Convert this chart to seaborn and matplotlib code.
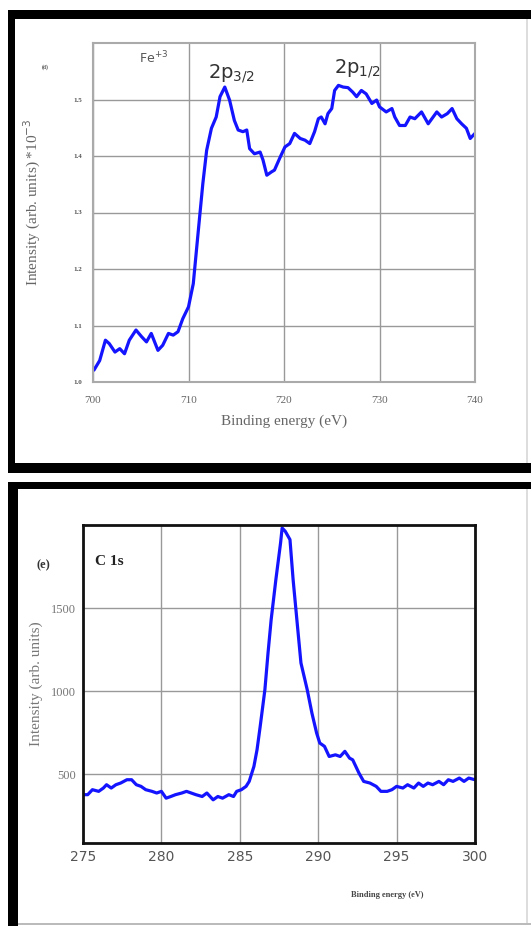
import matplotlib
matplotlib.use("Agg")
import matplotlib.pyplot as plt
import seaborn as sns
import pandas as pd
from matplotlib.patches import Rectangle

# Fe 2p spectrum (top panel)
fe_energy = [700.0, 700.1, 700.7, 701.3, 701.7, 702.3, 702.8, 703.3, 703.8, 704.5,
             705.1, 705.6, 706.1, 706.8, 707.3, 707.9, 708.4, 708.9, 709.4, 710.0,
             710.5, 711.0, 711.5, 711.9, 712.4, 712.9, 713.3, 713.8, 714.3, 714.8,
             715.2, 715.7, 716.1, 716.4, 716.9, 717.5, 717.8, 718.2, 718.7, 719.0,
             719.6, 720.1, 720.6, 721.1, 721.7, 722.2, 722.7, 723.2, 723.6, 723.9,
             724.3, 724.6, 725.0, 725.3, 725.7, 726.2, 726.7, 727.2, 727.6, 728.1,
             728.6, 729.2, 729.7, 730.0, 730.7, 731.3, 731.6, 732.1, 732.7, 733.2,
             733.7, 734.4, 735.1, 736.0, 736.5, 737.1, 737.6, 738.1, 738.6, 739.1,
             739.5, 740.0]
fe_intensity = [1.025, 1.021, 1.038, 1.074, 1.068, 1.053, 1.059, 1.050, 1.074, 1.092,
                1.080, 1.071, 1.086, 1.056, 1.065, 1.086, 1.083, 1.089, 1.112, 1.133,
                1.174, 1.263, 1.351, 1.410, 1.449, 1.469, 1.505, 1.522, 1.499, 1.463,
                1.446, 1.443, 1.446, 1.413, 1.404, 1.407, 1.393, 1.366, 1.372, 1.375,
                1.398, 1.416, 1.422, 1.440, 1.431, 1.428, 1.422, 1.443, 1.466, 1.469,
                1.457, 1.475, 1.484, 1.516, 1.525, 1.522, 1.521, 1.513, 1.505, 1.516,
                1.510, 1.493, 1.499, 1.487, 1.478, 1.484, 1.469, 1.454, 1.454, 1.469,
                1.466, 1.478, 1.457, 1.478, 1.469, 1.475, 1.484, 1.466, 1.457, 1.449,
                1.431, 1.440]

# C 1s spectrum (bottom panel)
c_energy = [275.0, 275.3, 275.6, 276.0, 276.3, 276.5, 276.8, 277.1, 277.4, 277.8,
            278.1, 278.4, 278.7, 279.0, 279.4, 279.7, 280.0, 280.3, 280.6, 280.9,
            281.3, 281.6, 281.9, 282.2, 282.6, 282.9, 283.3, 283.6, 283.9, 284.3,
            284.6, 284.8, 285.1, 285.4, 285.6, 285.9, 286.1, 286.3, 286.6, 286.8,
            287.0, 287.3, 287.6, 287.7, 287.9, 288.2, 288.4, 288.7, 288.9, 289.3,
            289.6, 289.9, 290.1, 290.4, 290.7, 291.1, 291.4, 291.7, 292.0, 292.2,
            292.6, 292.9, 293.3, 293.7, 294.0, 294.4, 294.7, 295.0, 295.4, 295.7,
            296.1, 296.4, 296.7, 297.0, 297.3, 297.7, 298.0, 298.3, 298.6, 299.0,
            299.3, 299.6, 300.0]
c_intensity = [376, 376, 406, 396, 416, 436, 416, 436, 446, 466,
               466, 436, 426, 406, 396, 386, 396, 355, 365, 376,
               386, 396, 386, 376, 365, 386, 345, 365, 355, 376,
               365, 396, 406, 426, 456, 546, 647, 787, 1008, 1229,
               1430, 1671, 1892, 1982, 1962, 1912, 1671, 1369, 1169, 1008,
               867, 747, 687, 667, 606, 616, 606, 637, 596, 586,
               506, 456, 446, 426, 396, 396, 406, 426, 416, 436,
               416, 446, 426, 446, 436, 456, 436, 466, 456, 476,
               456, 476, 466]

fe_ticks = [700, 710, 720, 730, 740]
fe_yticks = [1.0, 1.1, 1.2, 1.3, 1.4, 1.5]
c_ticks = [275, 280, 285, 290, 295, 300]
c_yticks = [500, 1000, 1500]

sns.set_style("white")
plt.rcParams['font.family'] = ['Liberation Serif', 'DejaVu Serif']

W, H = 531, 926
fig = plt.figure(figsize=(W / 100, H / 100), dpi=100)


def px_box(x0, y0, x1, y1):
    # pixel box (top-left origin) -> figure fraction [left, bottom, width, height]
    return [x0 / W, 1 - y1 / H, (x1 - x0) / W, (y1 - y0) / H]


def bar(x0, y0, x1, y1, color='black'):
    l, b, w, h = px_box(x0, y0, x1, y1)
    fig.add_artist(Rectangle((l, b), w, h, transform=fig.transFigure,
                             facecolor=color, edgecolor='none'))


# black panel frames
bar(8, 10, W, 19)
bar(8, 10, 15, 473)
bar(8, 463, W, 473)
bar(8, 482, W, 489)
bar(8, 482, 18, H)
bar(18, 923, W, 925, color='#bbbbbb')
bar(526, 19, 528, 463, color='#dddddd')
bar(526, 489, 528, 923, color='#dddddd')

blue = '#1414ff'

# ---- top panel: Fe 2p
ax1 = fig.add_axes(px_box(93, 43, 475, 382))
df_fe = pd.DataFrame({'energy': fe_energy, 'intensity': fe_intensity})
sns.lineplot(data=df_fe, x='energy', y='intensity', ax=ax1, color=blue, lw=2.3, sort=False)
ax1.set_xlim(700, 740)
ax1.set_ylim(1.0, 1.6)
ax1.set_xticks(fe_ticks)
ax1.set_yticks(fe_yticks)
ax1.set_xticklabels([str(t) for t in fe_ticks], fontsize=8, color='#666666')
ax1.set_yticklabels([f"{t:.1f}" for t in fe_yticks], fontsize=5, color='#555555',
                    fontweight='bold')
ax1.grid(True, color='#999999', lw=1)
for s in ax1.spines.values():
    s.set_color('#aaaaaa')
    s.set_linewidth(1.5)
ax1.tick_params(axis='y', length=3, color='#888888', pad=5)
ax1.tick_params(axis='x', length=3, color='#888888', pad=7)
ax1.set_xlabel('Binding energy (eV)', fontsize=11, color='#666666')
ax1.xaxis.set_label_coords(0.5, -0.095)
ax1.set_ylabel('Intensity (arb. units) *10$^{-3}$', fontsize=11, color='#666666')
ax1.yaxis.set_label_coords(-0.132, 0.53)
ax1.text(0.12, 0.955, 'Fe$^{+3}$', transform=ax1.transAxes, fontsize=9,
         family='DejaVu Sans', color='#555555', ha='left', va='center')
ax1.text(0.3, 0.91, '2p$_{3/2}$', transform=ax1.transAxes, fontsize=14,
         family='DejaVu Sans', color='#333333', ha='left', va='center')
ax1.text(0.63, 0.925, '2p$_{1/2}$', transform=ax1.transAxes, fontsize=14,
         family='DejaVu Sans', color='#333333', ha='left', va='center')
fig.text(45 / W, 1 - 67 / H, '(d)', fontsize=4, color='#555555', ha='center',
         va='center', fontweight='bold')

# ---- bottom panel: C 1s
ax2 = fig.add_axes(px_box(83, 525, 475, 843))
df_c = pd.DataFrame({'energy': c_energy, 'intensity': c_intensity})
sns.lineplot(data=df_c, x='energy', y='intensity', ax=ax2, color=blue, lw=2.3, sort=False)
ax2.set_xlim(275, 300)
ax2.set_ylim(85, 2000)
ax2.set_xticks(c_ticks)
ax2.set_yticks(c_yticks)
ax2.set_xticklabels([str(t) for t in c_ticks], fontsize=10, color='#555555',
                    family='DejaVu Sans')
ax2.set_yticklabels([str(t) for t in c_yticks], fontsize=9, color='#777777')
ax2.grid(True, color='#999999', lw=1)
for s in ax2.spines.values():
    s.set_color('#111111')
    s.set_linewidth(2)
ax2.tick_params(length=0, pad=5)
ax2.set_xlabel('')
ax2.set_ylabel('Intensity (arb. units)', fontsize=11, color='#777777', labelpad=6)
ax2.text(0.03, 0.885, 'C 1s', transform=ax2.transAxes, fontsize=11,
         fontweight='bold', color='#222222', ha='left', va='center')
fig.text(43 / W, 1 - 565 / H, '(e)', fontsize=9, color='#333333', ha='center',
         va='center', fontweight='bold')
fig.text(387 / W, 1 - 895 / H, 'Binding energy (eV)', fontsize=6, color='#444444',
         ha='center', va='center', fontweight='bold')

fig.savefig('out.png', dpi=100)
